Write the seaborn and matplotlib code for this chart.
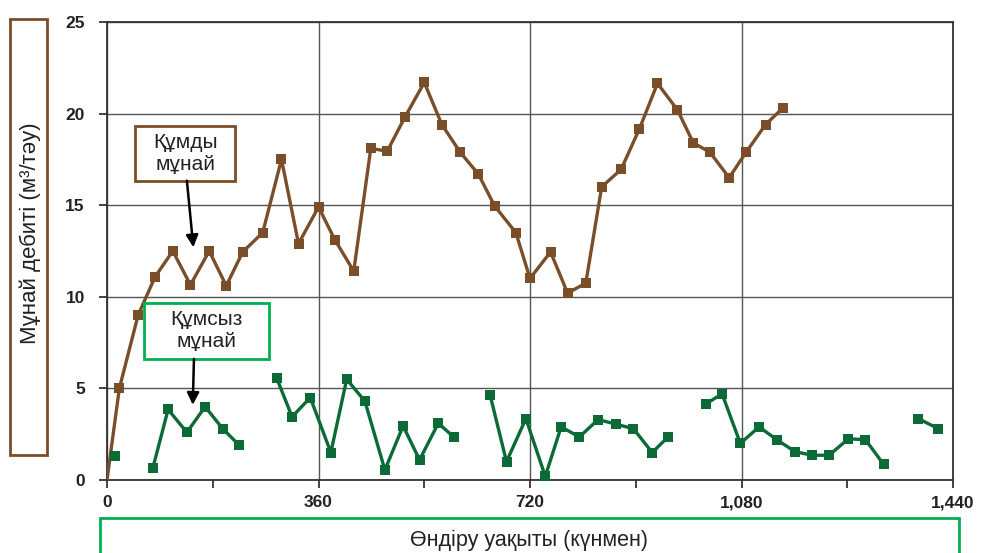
import numpy as np
import pandas as pd
import matplotlib.pyplot as plt
from matplotlib.patches import Rectangle
from matplotlib.ticker import MultipleLocator, FuncFormatter
import seaborn as sns

sns.set_style('white')
plt.rcParams['font.family'] = ['Liberation Sans', 'DejaVu Sans']

# Құмды мұнай (brown)
sand_days = [0, 21, 53, 82, 112, 142, 174, 203, 231, 265, 297, 326, 360, 388, 420,
             449, 477, 507, 540, 570, 601, 632, 660, 696, 720, 755, 784, 815, 842,
             875, 906, 937, 971, 998, 1026, 1059, 1088, 1121, 1150]
sand_rate = [0, 5.0, 9.0, 11.1, 12.5, 10.65, 12.5, 10.6, 12.45, 13.5, 17.5, 12.9, 14.9,
             13.1, 11.4, 18.1, 17.95, 19.8, 21.7, 19.4, 17.9, 16.7, 14.95, 13.5, 11.0,
             12.45, 10.2, 10.75, 16.0, 16.95, 19.15, 21.65, 20.2, 18.4, 17.9, 16.5,
             17.9, 19.4, 20.3]

# Құмсыз мұнай (green), broken into segments
clean_days = [14,
              78, 104, 136, 167, 197, 225,
              289, 315, 346, 381, 408, 439, 473, 504, 532, 564, 590,
              652, 680, 713, 746, 773, 804, 836, 866, 896, 928, 955,
              1019, 1047, 1078, 1110, 1140, 1171, 1200, 1229, 1262, 1291, 1322,
              1381, 1415]
clean_rate = [1.3,
              0.65, 3.85, 2.6, 4.0, 2.8, 1.9,
              5.55, 3.45, 4.5, 1.5, 5.5, 4.3, 0.55, 2.95, 1.1, 3.1, 2.35,
              4.65, 1.0, 3.35, 0.2, 2.9, 2.35, 3.3, 3.05, 2.8, 1.5, 2.35,
              4.15, 4.7, 2.0, 2.9, 2.2, 1.55, 1.35, 1.35, 2.25, 2.2, 0.85,
              3.35, 2.8]
clean_segment = [1] + [2] * 6 + [3] * 11 + [4] * 11 + [5] * 11 + [6] * 2

brown = '#7a4e28'
green = '#0b6a36'
box_green = '#00b050'

sand = pd.DataFrame({'day': sand_days, 'rate': sand_rate})
clean = pd.DataFrame({'day': clean_days, 'rate': clean_rate, 'seg': clean_segment})

fig = plt.figure(figsize=(9.82, 5.53), dpi=100)
ax = fig.add_axes([107 / 982, 73 / 553, 846 / 982, 458 / 553])

sns.lineplot(data=sand, x='day', y='rate', color=brown, lw=2.4, marker='s',
             markersize=7.5, markeredgewidth=0, markevery=list(range(1, len(sand))),
             ax=ax, zorder=3)
sns.lineplot(data=clean, x='day', y='rate', units='seg', estimator=None, color=green,
             lw=2.4, marker='s', markersize=7.5, markeredgewidth=0, ax=ax, zorder=3)

ax.set_xlim(0, 1440)
ax.set_ylim(0, 25)
ax.xaxis.set_major_locator(MultipleLocator(360))
ax.xaxis.set_minor_locator(MultipleLocator(180))
ax.yaxis.set_major_locator(MultipleLocator(5))
ax.xaxis.set_major_formatter(FuncFormatter(lambda v, p: f'{v:,.0f}'))
ax.grid(True, which='major', color='#555555', lw=1)
ax.tick_params(axis='both', which='both', direction='out', length=6, width=1.2,
               color='#222222', bottom=True, left=True)
ax.tick_params(axis='x', pad=5)
ax.tick_params(axis='y', pad=10)
for lab in ax.get_xticklabels() + ax.get_yticklabels():
    lab.set_fontweight('bold')
    lab.set_fontsize(12.5)
    lab.set_color('#222222')
for s in ax.spines.values():
    s.set_color('#333333')
    s.set_linewidth(1.3)
ax.set_xlabel('')
ax.set_ylabel('')

# annotation boxes
ax.add_patch(Rectangle((48, 16.34), 170, 3.0, fc='white', ec=brown, lw=2, zorder=5))
ax.text(133, 17.84, 'Құмды\nмұнай', ha='center', va='center', fontsize=15,
        linespacing=1.2, color='#222222', zorder=6)
ax.annotate('', xy=(147, 12.7), xytext=(136, 16.34),
            arrowprops=dict(arrowstyle='-|>', color='black', lw=1.8, mutation_scale=18,
                            shrinkA=0, shrinkB=0), zorder=6)

ax.add_patch(Rectangle((63, 6.61), 213, 3.06, fc='white', ec=box_green, lw=2, zorder=5))
ax.text(169, 8.14, 'Құмсыз\nмұнай', ha='center', va='center', fontsize=15,
        linespacing=1.2, color='#222222', zorder=6)
ax.annotate('', xy=(146, 4.1), xytext=(148, 6.61),
            arrowprops=dict(arrowstyle='-|>', color='black', lw=1.8, mutation_scale=18,
                            shrinkA=0, shrinkB=0), zorder=6)

# axis label boxes
fig.patches.append(Rectangle((10 / 982, 98 / 553), 37 / 982, 436 / 553, transform=fig.transFigure,
                             fill=False, ec=brown, lw=2))
fig.text(30 / 982, 1 - 233 / 553, 'Мұнай дебиті (м³/тәу)', rotation=90, ha='center',
         va='center', fontsize=16, color='#222222')
fig.patches.append(Rectangle((100 / 982, -0.05), 859 / 982, 0.05 + 35 / 553,
                             transform=fig.transFigure, fill=False, ec=box_green, lw=2))
fig.text(529 / 982, 1 - 540 / 553, 'Өндіру уақыты (күнмен)', ha='center', va='center',
         fontsize=15.5, color='#222222')

fig.savefig('out.png', dpi=100)
